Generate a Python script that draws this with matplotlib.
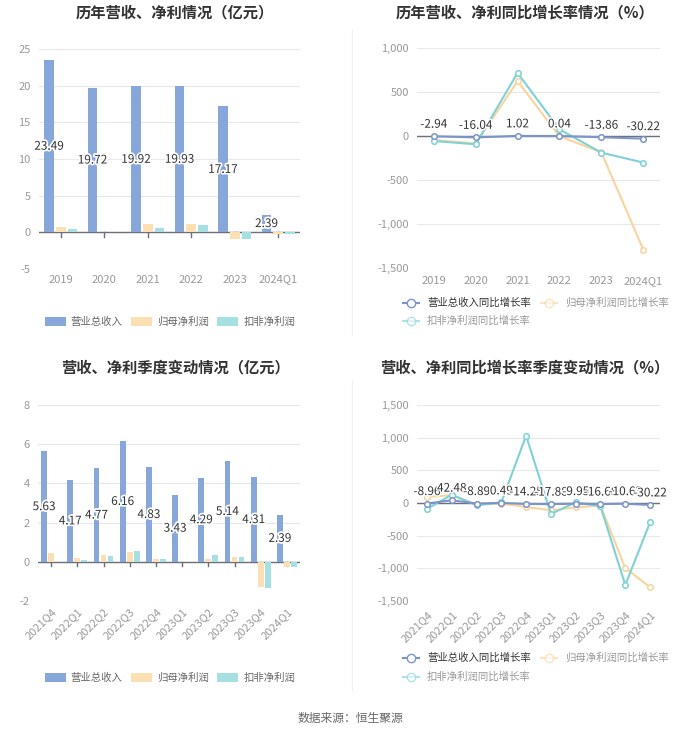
import matplotlib
matplotlib.use("Agg")
import matplotlib.pyplot as plt
import matplotlib.patheffects as pe
import numpy as np
from matplotlib.lines import Line2D
from matplotlib.patches import Patch

plt.rcParams['font.family'] = ['Noto Sans CJK SC', 'DejaVu Sans']
plt.rcParams['axes.unicode_minus'] = False

# ---------------- data ----------------
years = ['2019', '2020', '2021', '2022', '2023', '2024Q1']
rev_y = [23.49, 19.72, 19.92, 19.93, 17.17, 2.39]
np_y = [0.68, 0.05, 1.14, 1.14, -0.95, -0.18]
dnp_y = [0.52, 0.01, 0.55, 1.00, -0.85, -0.25]

rev_g_y = [-2.94, -16.04, 1.02, 0.04, -13.86, -30.22]
np_g_y = [-45, -85, 623, -3, -185, -1290]
dnp_g_y = [-57, -94, 717, 75, -189, -302]

quarters = ['2021Q4', '2022Q1', '2022Q2', '2022Q3', '2022Q4',
            '2023Q1', '2023Q2', '2023Q3', '2023Q4', '2024Q1']
rev_q = [5.63, 4.17, 4.77, 6.16, 4.83, 3.43, 4.29, 5.14, 4.31, 2.39]
np_q = [0.47, 0.19, 0.34, 0.52, 0.15, 0.01, 0.12, 0.25, -1.30, -0.24]
dnp_q = [0.0, 0.10, 0.32, 0.54, 0.12, -0.02, 0.37, 0.24, -1.36, -0.25]

rev_g_q = [-8.96, 42.48, -8.89, 0.49, -14.25, -17.88, -9.95, -16.68, -10.63, -30.22]
np_g_q = [92, 120, -20, -10, -60, -112, -66, -40, -995, -1290]
dnp_g_q = [-92, 127, -36, 10, 1030, -168, 10, -50, -1255, -296]

bar_labels = ['营业总收入', '归母净利润', '扣非净利润']
line_labels = ['营业总收入同比增长率', '归母净利润同比增长率', '扣非净利润同比增长率']

C_REV = '#87A7DA'
C_NP = '#FCE0B3'
C_DNP = '#A6E0E2'
L_REV = '#7C95C9'
L_NP = '#F9D49E'
L_DNP = '#7ED2D6'
TICK_C = '#999999'
GRID_C = '#E8E8E8'
AX_C = '#6E7079'

fig = plt.figure(figsize=(7.0, 7.34), dpi=100)
W, H = 700, 734


def rect(x0, x1, ytop, ybot):
    return [x0 / W, 1 - ybot / H, (x1 - x0) / W, (ybot - ytop) / H]


def style(ax, ylim, yticks, ytl):
    ax.set_ylim(*ylim)
    ax.set_yticks(yticks)
    ax.set_yticklabels(ytl, color=TICK_C, fontsize=8)
    for s in ax.spines.values():
        s.set_visible(False)
    ax.grid(axis='y', color=GRID_C, linewidth=0.8)
    ax.set_axisbelow(True)
    ax.tick_params(axis='y', length=0, pad=6)
    ax.axhline(0, color=AX_C, linewidth=1, zorder=2)


def bar_panel(ax, cats, rev, npv, dnp, ylim, yticks, rot, bw):
    x = np.arange(len(cats))
    off = 0.27
    ax.bar(x - off, rev, bw, color=C_REV, zorder=3)
    ax.bar(x, npv, bw, color=C_NP, zorder=3)
    ax.bar(x + off, dnp, bw, color=C_DNP, zorder=3)
    style(ax, ylim, yticks, [str(t) for t in yticks])
    ax.set_xlim(-0.5, len(cats) - 0.5)
    ax.set_xticks(x)
    if rot:
        ax.set_xticklabels(cats, rotation=45, ha='right', rotation_mode='anchor',
                           color=TICK_C, fontsize=8)
    else:
        ax.set_xticklabels(cats, color=TICK_C, fontsize=8)
    ax.tick_params(axis='x', length=0, pad=4)
    for xi in x:
        ax.plot([xi, xi], [0, -(ylim[1] - ylim[0]) * 0.02], color=AX_C, lw=1, zorder=2,
                clip_on=False)
    for xi, v in zip(x, rev):
        ax.text(xi - off, v / 2, f'{v:.2f}', ha='center', va='center', fontsize=8.5,
                color='#333333', zorder=5,
                path_effects=[pe.withStroke(linewidth=2.5, foreground='white')])


def line_panel(ax, cats, rg, ng, dg, ylim, yticks, ytl, rot):
    x = np.arange(len(cats))
    mk = dict(marker='o', markersize=4, markerfacecolor='white', markeredgewidth=1.1)
    ax.plot(x, ng, color=L_NP, lw=1.5, zorder=3, **mk, markeredgecolor=L_NP)
    ax.plot(x, dg, color=L_DNP, lw=1.5, zorder=4, **mk, markeredgecolor=L_DNP)
    ax.plot(x, rg, color=L_REV, lw=1.5, zorder=5, **mk, markeredgecolor=L_REV)
    style(ax, ylim, yticks, ytl)
    ax.set_xlim(-0.4, len(cats) - 0.6)
    ax.set_xticks(x)
    if rot:
        ax.set_xticklabels(cats, rotation=45, ha='right', rotation_mode='anchor',
                           color=TICK_C, fontsize=8)
    else:
        ax.set_xticklabels(cats, color=TICK_C, fontsize=8)
    ax.tick_params(axis='x', length=0, pad=6)
    for xi, v in zip(x, rg):
        ax.annotate(f'{v:.2f}', (xi, v), xytext=(0, 4), textcoords='offset points',
                    ha='center', va='bottom', fontsize=8.5, color='#333333', zorder=6,
                    path_effects=[pe.withStroke(linewidth=2, foreground='white')])


# top-left
ax1 = fig.add_axes(rect(39, 300, 49, 269))
bar_panel(ax1, years, rev_y, np_y, dnp_y, (-5, 25), [-5, 0, 5, 10, 15, 20, 25], False, 0.22)

# top-right
ax2 = fig.add_axes(rect(417, 660, 48, 268))
line_panel(ax2, years, rev_g_y, np_g_y, dnp_g_y, (-1500, 1000),
           [-1500, -1000, -500, 0, 500, 1000],
           ['-1,500', '-1,000', '-500', '0', '500', '1,000'], False)

# bottom-left
ax3 = fig.add_axes(rect(38, 300, 405, 601))
bar_panel(ax3, quarters, rev_q, np_q, dnp_q, (-2, 8), [-2, 0, 2, 4, 6, 8], True, 0.22)

# bottom-right
ax4 = fig.add_axes(rect(417, 660, 405, 601))
line_panel(ax4, quarters, rev_g_q, np_g_q, dnp_g_q, (-1500, 1500),
           [-1500, -1000, -500, 0, 500, 1000, 1500],
           ['-1,500', '-1,000', '-500', '0', '500', '1,000', '1,500'], True)

# titles
tkw = dict(ha='center', va='center', fontsize=11, fontweight='bold', color='#333333')
fig.text(175 / W, 1 - 12 / H, '历年营收、净利情况（亿元）', **tkw)
fig.text(525 / W, 1 - 12 / H, '历年营收、净利同比增长率情况（%）', **tkw)
fig.text(175 / W, 1 - 367 / H, '营收、净利季度变动情况（亿元）', **tkw)
fig.text(525 / W, 1 - 367 / H, '营收、净利同比增长率季度变动情况（%）', **tkw)

# separators
fig.add_artist(Line2D([352 / W, 352 / W], [1 - 30 / H, 1 - 335 / H], color='#F0F0F0', lw=1))
fig.add_artist(Line2D([352 / W, 352 / W], [1 - 380 / H, 1 - 690 / H], color='#F0F0F0', lw=1))

# legends
bar_handles = [Patch(facecolor=c, edgecolor='none') for c in (C_REV, C_NP, C_DNP)]


def bar_legend(yc):
    fig.legend(bar_handles, bar_labels, loc='center', bbox_to_anchor=(170 / W, 1 - yc / H),
               ncol=3, frameon=False, fontsize=7.5, labelcolor='#666666', borderpad=0,
               borderaxespad=0, handlelength=2.0, handleheight=0.9, columnspacing=0.8,
               handletextpad=0.5)


bar_legend(322)
bar_legend(678)


def line_legend(y1, y2):
    hs = [Line2D([], [], color=L_REV, lw=1.5, marker='o', markersize=6,
                 markerfacecolor='white', markeredgecolor=L_REV),
          Line2D([], [], color=L_NP, lw=1.5, marker='o', markersize=6,
                 markerfacecolor='white', markeredgecolor=L_NP, alpha=0.6),
          Line2D([], [], color=L_DNP, lw=1.5, marker='o', markersize=6,
                 markerfacecolor='white', markeredgecolor=L_DNP, alpha=0.6)]
    common = dict(loc='center left', frameon=False, fontsize=7.5, borderpad=0,
                  borderaxespad=0, handlelength=1.5, handletextpad=0.8)
    leg = fig.legend(hs[:2], line_labels[:2], bbox_to_anchor=(403 / W, 1 - y1 / H),
                     ncol=2, columnspacing=1.0, **common)
    leg.get_texts()[0].set_color('#333333')
    leg.get_texts()[1].set_color('#999999')
    leg2 = fig.legend(hs[2:], line_labels[2:], bbox_to_anchor=(403 / W, 1 - y2 / H),
                      **common)
    leg2.get_texts()[0].set_color('#999999')


line_legend(303, 321)
line_legend(658, 677)

fig.text(0.5, 1 - 718 / H, '数据来源：恒生聚源', ha='center', va='center', fontsize=8.5,
         color='#666666')

fig.savefig('out.png', dpi=100, facecolor='white')
